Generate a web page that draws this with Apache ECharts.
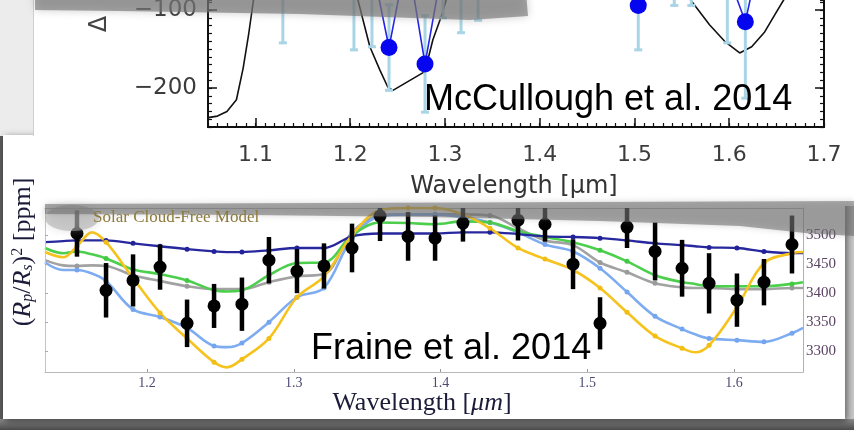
<!DOCTYPE html>
<html><head><meta charset="utf-8">
<script src="https://cdn.jsdelivr.net/npm/echarts@6.0.0/dist/echarts.min.js"></script>
<style>html,body{margin:0;padding:0;background:#fff;overflow:hidden}#c{width:854px;height:430px}</style>
</head><body><div id="c"></div>
<script>
// ---------- McCullough et al. 2014 (top panel) ----------
var mcWave  = [1.129,1.148,1.167,1.185,1.204,1.223,1.241,1.260,1.279,1.298,1.317,1.335,1.354,1.373,1.392,1.410,1.429,1.448,1.467,1.485,1.504,1.523,1.542,1.560,1.579,1.598,1.617,1.635,1.654];
var mcDepth = [-60,10,-20,0,-70,-41,-148,-29,-169,-40,-50,-40,-10,20,10,30,0,10,20,-20,-94,-30,-35,-40,-30,-52,-115,-14,-30];
var mcErr   = [82,60,60,60,81,106,55,55,62,70,79,73,60,60,60,60,60,60,60,60,57,55,59,54,55,90,98,60,50];
var mcModelWave  = [1.05,1.06,1.07,1.08,1.087,1.093,1.098,1.105,1.12,1.15,1.18,1.195,1.2082,1.2208,1.2314,1.2398,1.2451,1.2788,1.2873,1.2968,1.303,1.32,1.35,1.40,1.45,1.50,1.53,1.5593,1.5794,1.5952,1.611,1.6237,1.6374,1.648,1.6574,1.67,1.70];
var mcModelDepth = [-238,-236,-230,-215,-175,-130,-87,-40,10,30,0,-40,-87,-147,-177,-199,-203,-179,-138,-106,-80,-40,0,20,20,-10,-40,-87,-119,-140,-155,-147,-128,-106,-87,-60,-40];
var mcXTicks = [1.1,1.2,1.3,1.4,1.5,1.6,1.7];
var mcYTicks = [-200,-100];

// ---------- Fraine et al. 2014 (bottom panel) ----------
var fraineWave  = [1.1523,1.1721,1.1905,1.2089,1.2273,1.2457,1.2647,1.2831,1.3022,1.3206,1.3397,1.3588,1.3779,1.3963,1.4153,1.4528,1.4712,1.4903,1.5087,1.5271,1.5462,1.5646,1.5830,1.6020,1.6204,1.6395];
var fraineDepth = [3503,3405,3422,3445,3348,3378,3381,3457,3438,3447,3478,3533,3498,3495,3521,3526,3519,3450,3348,3514,3472,3443,3417,3388,3419,3484];
var fraineErr   = [40,47,45,39,41,38,46,40,38,39,42,43,42,39,32,35,30,43,45,36,50,49,52,46,40,50];

var modelWave = [1.1305,1.1428,1.1523,1.1625,1.1721,1.1905,1.2089,1.2273,1.2457,1.2545,1.2647,1.2831,1.3022,1.3206,1.3397,1.3588,1.3779,1.3963,1.4153,1.4337,1.4528,1.4712,1.4903,1.5087,1.5271,1.5462,1.5646,1.5734,1.5830,1.6020,1.6204,1.6395,1.6470];
var modelHasDot = [0,0,1,0,1,1,1,1,1,0,1,1,1,1,1,1,1,1,1,1,1,1,1,1,1,1,1,0,1,1,1,1,0];
var modelNavy  = [3488,3490,3491,3491,3491,3486,3481,3476,3472,3471,3471,3474,3478,3478,3498,3503,3503,3503,3505,3505,3502,3498,3497,3495,3491,3486,3483,3481,3479,3478,3472,3469,3469];
var modelGreen = [3478,3469,3472,3467,3460,3441,3433,3422,3405,3403,3405,3431,3452,3453,3500,3522,3521,3519,3524,3522,3507,3497,3488,3474,3455,3431,3419,3416,3412,3412,3412,3416,3419];
var modelGray  = [3457,3448,3447,3448,3447,3431,3421,3412,3407,3407,3407,3419,3429,3433,3505,3534,3536,3536,3536,3534,3512,3491,3483,3453,3436,3417,3410,3409,3409,3407,3407,3409,3409];
var modelLightBlue = [3453,3440,3440,3434,3421,3372,3359,3340,3309,3307,3314,3350,3393,3409,3495,3533,3536,3536,3531,3522,3505,3484,3472,3443,3402,3360,3338,3329,3322,3319,3316,3331,3340];
var modelYellow = [3471,3462,3481,3505,3488,3426,3366,3322,3281,3272,3286,3322,3393,3429,3500,3543,3547,3547,3536,3512,3478,3459,3440,3409,3367,3326,3305,3298,3310,3376,3452,3469,3471];
var fraineXTicks = [1.2,1.3,1.4,1.5,1.6];
var fraineYTicks = [3300,3350,3400,3450,3500];

function pairs(xs, ys){ return xs.map(function(x,i){ return [x, ys[i]]; }); }
function bars(xs, ys, es){ return xs.map(function(x,i){ return [x, ys[i]-es[i], ys[i]+es[i]]; }); }
function dots(ys){ var out=[]; modelWave.forEach(function(w,i){ if(modelHasDot[i]) out.push([w, ys[i]]); }); return out; }
function errRender(color, width, cap){
  return function(params, api){
    var x = api.value(0);
    var lo = api.coord([x, api.value(1)]);
    var hi = api.coord([x, api.value(2)]);
    var st = {stroke: color, lineWidth: width};
    var ch = [{type:'line', shape:{x1:lo[0],y1:lo[1],x2:hi[0],y2:hi[1]}, style:st}];
    if (cap) {
      ch.push({type:'line', shape:{x1:lo[0]-cap,y1:lo[1],x2:lo[0]+cap,y2:lo[1]}, style:st});
      ch.push({type:'line', shape:{x1:hi[0]-cap,y1:hi[1],x2:hi[0]+cap,y2:hi[1]}, style:st});
    }
    return {type:'group', children: ch};
  };
}
function modelLine(name, ys, color, w){
  return {name:name, type:'line', xAxisIndex:1, yAxisIndex:2, data:pairs(modelWave, ys), smooth:0.35,
    showSymbol:false, lineStyle:{color:color, width:w}, clip:true, z:3, silent:true};
}
function modelDots(ys, color){
  return {type:'scatter', xAxisIndex:1, yAxisIndex:2, data:dots(ys), symbol:'circle', symbolSize:5,
    itemStyle:{color:color, opacity:1}, clip:true, z:3, silent:true};
}
function minorAxis(grid, pos, min, max, interval, show){
  return {gridIndex:grid, type:'value', position:pos, min:min, max:max, interval:interval, show:show, z:8,
    axisLine:{show:true, lineStyle:{color:'#111', width:2}},
    axisTick:{show:true, inside:true, length:4, lineStyle:{color:'#111', width:1.2}},
    axisLabel:{show:false}, splitLine:{show:false}};
}

var TOPFONT = 'DejaVu Sans';
var SERIF = 'Liberation Serif';
var TOPGRID = {left:208, top:0, width:616, height:127, containLabel:false, outerBoundsMode:'none'};

var option = {
  animation: false,
  backgroundColor: '#c8c8c8',
  grid: [
    TOPGRID,
    {left:45, top:208, width:758, height:164, containLabel:false, outerBoundsMode:'none'},
    Object.assign({}, TOPGRID),
    Object.assign({}, TOPGRID)
  ],
  xAxis: [
    {gridIndex:0, type:'value', position:'bottom', min:1.05, max:1.7, z:8,
      axisLine:{lineStyle:{color:'#111', width:2}},
      axisTick:{show:true, inside:true, length:9, customValues:mcXTicks, lineStyle:{color:'#111', width:1.5}},
      axisLabel:{customValues:mcXTicks, fontFamily:TOPFONT, fontSize:22, color:'#3c3c3c', margin:17,
        formatter:function(v){ return v.toFixed(1); }},
      splitLine:{show:false}},
    {gridIndex:1, type:'value', position:'bottom', min:1.1305, max:1.647, z:8,
      axisLine:{lineStyle:{color:'#b8b8b8', width:1}},
      axisTick:{show:true, inside:true, length:3, customValues:fraineXTicks, lineStyle:{color:'#999'}},
      axisLabel:{customValues:fraineXTicks, fontFamily:SERIF, fontSize:14, color:'#4c4a72', margin:4,
        formatter:function(v){ return v.toFixed(1); }},
      splitLine:{show:false}},
    {gridIndex:1, type:'value', position:'top', min:1.1305, max:1.647,
      axisLine:{lineStyle:{color:'#b8b8b8', width:1}}, axisTick:{show:false}, axisLabel:{show:false}, splitLine:{show:false}},
    minorAxis(2, 'bottom', 1.05, 1.7, 0.01, true),
    minorAxis(3, 'bottom', 1.05, 1.7, 0.01, false)
  ],
  yAxis: [
    {gridIndex:0, type:'value', position:'left', min:-250, max:-87, z:8,
      axisLine:{show:true, lineStyle:{color:'#111', width:2}},
      axisTick:{show:true, inside:true, length:9, customValues:mcYTicks, lineStyle:{color:'#111', width:1.5}},
      axisLabel:{customValues:mcYTicks, fontFamily:TOPFONT, fontSize:23, color:'#3c3c3c', margin:11,
        formatter:function(v){ return String(v).replace('-', '\u2212'); }},
      splitLine:{show:false}},
    {gridIndex:0, type:'value', position:'right', min:-250, max:-87, z:8,
      axisLine:{show:true, lineStyle:{color:'#111', width:2}},
      axisTick:{show:true, inside:true, length:9, customValues:mcYTicks, lineStyle:{color:'#111', width:1.5}},
      axisLabel:{show:false}, splitLine:{show:false}},
    {gridIndex:1, type:'value', position:'left', min:3264, max:3547, z:8,
      axisLine:{show:true, lineStyle:{color:'#c4c4c4', width:1}},
      axisTick:{show:true, inside:true, length:3, customValues:fraineYTicks, lineStyle:{color:'#aaa'}},
      axisLabel:{show:false}, splitLine:{show:false}},
    minorAxis(2, 'left', -250, -87, 10, true),
    {gridIndex:1, type:'value', position:'right', min:3264, max:3547, z:8,
      axisLine:{show:true, lineStyle:{color:'#b0b0b0', width:1}},
      axisTick:{show:false},
      axisLabel:{customValues:fraineYTicks, fontFamily:SERIF, fontSize:15, color:'#5b4463', margin:3,
        formatter:function(v){ return String(v); }},
      splitLine:{show:false}},
    minorAxis(3, 'right', -250, -87, 10, true)
  ],
  series: [
    {name:'Model', type:'line', xAxisIndex:0, yAxisIndex:0, data:pairs(mcModelWave, mcModelDepth),
      showSymbol:false, lineStyle:{color:'#111', width:1.6}, clip:true, z:2, silent:true},
    {name:'McCullough errors', type:'custom', xAxisIndex:0, yAxisIndex:0, data:bars(mcWave, mcDepth, mcErr),
      encode:{x:0, y:[1,2]}, renderItem:errRender('#a9d5e6', 3, 4), clip:true, z:3, silent:true},
    {name:'McCullough', type:'line', xAxisIndex:0, yAxisIndex:0, data:pairs(mcWave, mcDepth),
      symbol:'circle', symbolSize:17, showAllSymbol:true, itemStyle:{color:'#0505f0', opacity:1},
      lineStyle:{color:'#2323e6', width:1.6}, clip:true, z:4, silent:true},
    {type:'line', xAxisIndex:0, yAxisIndex:1, data:[], silent:true},
    {type:'line', xAxisIndex:3, yAxisIndex:3, data:[], silent:true},
    {type:'line', xAxisIndex:4, yAxisIndex:5, data:[], silent:true},

    modelLine('gray', modelGray, '#a2a2a2', 2.6),
    modelLine('lightblue', modelLightBlue, '#7eacf0', 2.6),
    modelLine('green', modelGreen, '#4ccf4c', 2.6),
    modelLine('navy', modelNavy, '#28289e', 2.3),
    modelLine('yellow', modelYellow, '#f6c31e', 2.6),
    modelDots(modelGray, '#9a9a9a'),
    modelDots(modelLightBlue, '#75a5ee'),
    modelDots(modelGreen, '#44c844'),
    modelDots(modelNavy, '#22229a'),
    modelDots(modelYellow, '#f2be14'),
    {name:'Fraine errors', type:'custom', xAxisIndex:1, yAxisIndex:2, data:bars(fraineWave, fraineDepth, fraineErr),
      encode:{x:0, y:[1,2]}, renderItem:errRender('#000', 4.5, 0), clip:true, z:5, silent:true},
    {name:'Fraine', type:'scatter', xAxisIndex:1, yAxisIndex:2, data:pairs(fraineWave, fraineDepth),
      symbol:'circle', symbolSize:13, itemStyle:{color:'#000', opacity:1}, clip:true, z:6, silent:true},
    {type:'line', xAxisIndex:2, yAxisIndex:4, data:[], silent:true}
  ],
  graphic: [
    {type:'rect', z:-30, silent:true, shape:{x:0,y:0,width:33,height:136}, style:{fill:'#ececec'}},
    {type:'rect', z:-30, silent:true, shape:{x:0,y:136,width:3,height:294}, style:{fill:'#5c5c5c'}},
    {type:'rect', z:-30, silent:true, shape:{x:0,y:419,width:854,height:11},
      style:{fill:new echarts.graphic.LinearGradient(0,0,0,1,[{offset:0,color:'#8c8c8c'},{offset:1,color:'#4a4a4a'}])}},
    {type:'rect', z:-29, silent:true, shape:{x:3,y:135,width:842,height:284},
      style:{fill:'#fff', shadowBlur:7, shadowOffsetX:2, shadowOffsetY:2, shadowColor:'rgba(0,0,0,0.55)'}},
    {type:'rect', z:-28, silent:true, shape:{x:33,y:0,width:821,height:206}, style:{fill:'#fff'}},
    {type:'line', z:-27, silent:true, shape:{x1:33.5,y1:0,x2:33.5,y2:136}, style:{stroke:'#cfcfcf', lineWidth:1}},
    {type:'polygon', z:50, silent:true, shape:{points:[[35,-8],[526,-8],[528,16],[470,20],[300,14],[120,11],[35,10]]},
      style:{fill:'rgba(115,115,115,0.62)', shadowBlur:8, shadowColor:'rgba(115,115,115,0.6)'}},
    {type:'polygon', z:50, silent:true, shape:{points:[[45,204],[854,201],[854,236],[805,233],[740,226],[600,221],[430,217],[250,215],[45,214]]},
      style:{fill:'rgba(105,105,105,0.55)', shadowBlur:6, shadowColor:'rgba(105,105,105,0.5)'}},
    {type:'ellipse', z:49, silent:true, shape:{cx:72,cy:218,rx:27,ry:13},
      style:{fill:'rgba(170,170,170,0.55)', shadowBlur:8, shadowColor:'rgba(170,170,170,0.6)'}},
    {type:'text', z:60, silent:true, x:100, y:24, rotation:Math.PI/2,
      style:{text:'\u0394', x:0, y:0, fontFamily:TOPFONT, fontSize:24, fill:'#444', align:'center', verticalAlign:'middle', textAlign:'center', textVerticalAlign:'middle'}},
    {type:'text', z:60, silent:true,
      style:{text:'Wavelength [\u03bcm]', x:514, y:187, fontFamily:TOPFONT, fontSize:24, fill:'#333', align:'center', verticalAlign:'middle', textAlign:'center', textVerticalAlign:'middle'}},
    {type:'text', z:60, silent:true,
      style:{text:'McCullough et al. 2014', x:424, y:100, fontFamily:'Liberation Sans', fontSize:36, fill:'#000', align:'left', verticalAlign:'middle', textAlign:'left', textVerticalAlign:'middle'}},
    {type:'text', z:60, silent:true,
      style:{text:'Fraine et al. 2014', x:311, y:349, fontFamily:'Liberation Sans', fontSize:36, fill:'#000', align:'left', verticalAlign:'middle', textAlign:'left', textVerticalAlign:'middle'}},
    {type:'text', z:60, silent:true,
      style:{text:'Solar Cloud-Free Model', x:93, y:218, fontFamily:SERIF, fontSize:17, fill:'#8c7a3c', align:'left', verticalAlign:'middle', textAlign:'left', textVerticalAlign:'middle'}},
    {type:'text', z:60, silent:true,
      style:{text:'Wavelength [{i|\u03bcm}]', x:422, y:403, fontFamily:SERIF, fontSize:26, fill:'#1c1c3a', align:'center', verticalAlign:'middle', textAlign:'center', textVerticalAlign:'middle',
        rich:{i:{fontFamily:SERIF, fontStyle:'italic', fontSize:26, fill:'#1c1c3a'}}}},
    {type:'text', z:60, silent:true, x:23, y:252, rotation:Math.PI/2,
      style:{text:'({r|R}{b|p}/{r|R}{b|s}){c|2} [ppm]', x:0, y:0, fontFamily:SERIF, fontSize:26, fill:'#1c1c3a', align:'center', verticalAlign:'middle', textAlign:'center', textVerticalAlign:'middle',
        rich:{r:{fontFamily:SERIF, fontStyle:'italic', fontSize:26, fill:'#1c1c3a'},
              b:{fontFamily:SERIF, fontStyle:'italic', fontSize:16, fill:'#1c1c3a', verticalAlign:'bottom'},
              c:{fontFamily:SERIF, fontSize:16, fill:'#1c1c3a', verticalAlign:'top'}}}}
  ]
};
var chart = echarts.init(document.getElementById('c'), null, {renderer:'canvas'});
chart.setOption(option);
</script></body></html>
